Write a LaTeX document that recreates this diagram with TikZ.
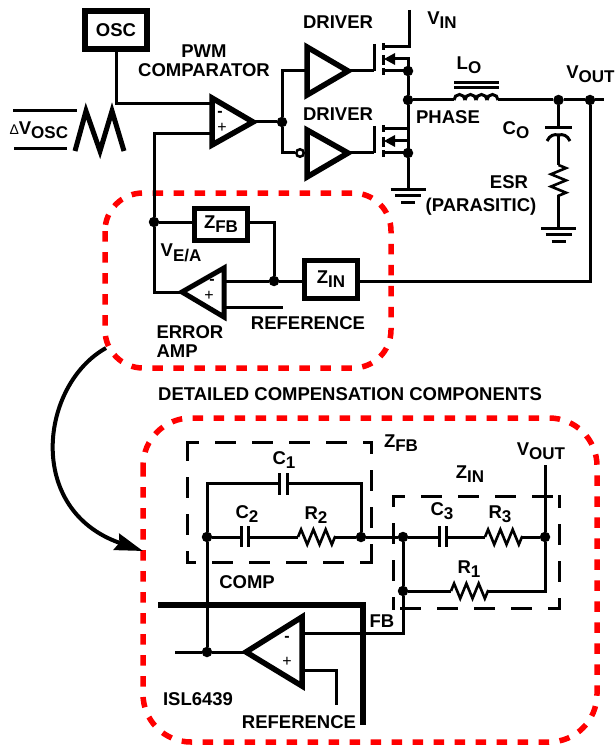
\documentclass[tikz,border=0pt]{standalone}
\usepackage{fontspec}
\setmainfont{Liberation Sans}
\usetikzlibrary{arrows.meta}
\usetikzlibrary{decorations.pathmorphing}

\newcommand{\subt}[2]{#1\raisebox{-4.5pt}{\fontsize{17}{17}\selectfont #2}}

\begin{document}
\begin{tikzpicture}[x=1pt, y=-1pt, line width=3pt, >={Stealth[length=28pt,width=17pt,inset=3pt]}]
\tikzset{dot/.style={circle,fill=black,inner sep=0,outer sep=0,minimum size=10.5pt}}
\tikzset{lab/.style={font=\bfseries\fontsize{18.5}{19}\selectfont,inner sep=0,align=center}}
\tikzset{sign/.style={font=\fontsize{16}{16}\selectfont,inner sep=0}}
\tikzset{block/.style={draw,line width=5.5pt,inner sep=0,outer sep=0,minimum width=#1,minimum height=38pt}}
\tikzset{amp/.style={line width=5.5pt,fill=white,miter limit=10}}
\tikzset{res/.style={decorate,decoration={zigzag,segment length=12.3pt,amplitude=7.5pt},line width=2.6pt}}
\tikzset{redbox/.style={draw=red,line width=5.5pt,dash pattern=on 10.5pt off 10.5pt}}
\tikzset{blackbox/.style={line width=3pt,line cap=rect,dash pattern=on 18pt off 19pt,dash phase=8pt}}
\tikzset{bar/.style={line width=3pt}}
\tikzset{gnd/.pic={
  \draw (-17.5,0) -- (17.5,0);
  \draw (-13,6.5) -- (13,6.5);
  \draw (-7,13) -- (7,13);
}}
\tikzset{fet/.pic={
  \draw (-34,-27) -- (-34,0);
  \foreach \a/\b in {-28/-21,-16/-6,-3/4} {\draw (-25,\a) -- (-25,\b);}
  \draw (-25,-24) -- (1,-24);
  \draw (-25,0) -- (0,0);
  \draw (0,0) -- (0,-12) -- (-14,-12);
  \fill (-24,-12) -- (-13,-18) -- (-13,-6) -- cycle;
}}
\useasboundingbox (0,0) rectangle (615,746);

% red outlines
\draw[redbox,rounded corners=38pt] (105,193) rectangle (391,368);
\draw[redbox,rounded corners=48pt] (143,418) rectangle (597,742);

% oscillator and ramp
\node[block=62pt,lab] (osc) at (116,30) {OSC};
\coordinate (cmpin) at (211,104);
\coordinate (oscturn) at (116,104);
\draw (osc) -- (oscturn) -- (cmpin);
\draw[line width=5pt,line join=miter] (75,151) -- (86,111) -- (100,151) -- (112,111) -- (124,151);
\coordinate (dvtop) at (13,111);
\coordinate (dvtopb) at (77,111);
\coordinate (dvbot) at (14,149);
\coordinate (dvbotb) at (67,149);
\draw (dvtop) -- (dvtopb);
\draw (dvbot) -- (dvbotb);
\node[lab,anchor=west] (dv) at (8,130) {{\fontseries{m}\selectfont\fontsize{14}{14}\selectfont Δ}\subt{V}{OSC}};
\node[lab] (pwm) at (204,61) {PWM\\COMPARATOR};

% pwm comparator
\coordinate (cmpa) at (212,98);
\coordinate (cmpb) at (253,122);
\coordinate (cmpc) at (212,145);
\node[dot] (jcmp) at (282,122) {};
\node[dot] (jea) at (154,222) {};
\coordinate (cmpplus) at (154,134);
\coordinate (cmpplusb) at (211,134);
\draw (cmpb) -- (jcmp);
\draw (jea) -- (cmpplus) -- (cmpplusb);
\draw[amp] (cmpa) -- (cmpb) -- (cmpc) -- cycle;
\node[sign] (cmpm) at (220,114) {\textbf{-}};
\node[sign] (cmpp) at (222,128) {+};

% drivers
\coordinate (drva) at (307,47);
\coordinate (drvb) at (348,71);
\coordinate (drvc) at (307,95);
\coordinate (drvd) at (307,130);
\coordinate (drve) at (348,153);
\coordinate (drvf) at (307,177);
\coordinate (drvain) at (305,71);
\coordinate (bubin) at (282,153);
\node[draw,circle,fill=white,inner sep=0,minimum size=7.5pt,line width=2.5pt] (bub) at (300,153) {};
\draw (jcmp) |- (drvain);
\draw (jcmp) -- (bubin) -- (bub);
\draw[amp] (drva) -- (drvb) -- (drvc) -- cycle;
\draw[amp] (drvd) -- (drve) -- (drvf) -- cycle;
\node[lab] (drvlaba) at (338,22) {DRIVER};
\node[lab] (drvlabb) at (338,114) {DRIVER};

% mosfets and phase node
\node[dot] (jsrc) at (408,71) {};
\node[dot] (jphase) at (408,100) {};
\node[dot] (jlow) at (408,153) {};
\pic at (408,71) {fet};
\pic at (408,153) {fet};
\coordinate (gatea) at (374,71);
\coordinate (gateb) at (374,153);
\coordinate (vintop) at (409.5,10);
\coordinate (vinturn) at (409.5,47);
\coordinate (gndlow) at (408,189);
\draw (drvb) -- (gatea);
\draw (drve) -- (gateb);
\draw (vintop) -- (vinturn) -- (384,47);
\draw (jsrc) -- (jphase) -- (jlow) -- (gndlow);
\pic at (gndlow) {gnd};
\node[lab] (vin) at (442,20) {\subt{V}{IN}};
\node[lab] (phase) at (448,117) {PHASE};

% output filter
\coordinate (la) at (454,100);
\coordinate (lb) at (498,100);
\node[dot] (jco) at (558.5,100) {};
\node[dot] (jout) at (590,100) {};
\coordinate (outend) at (604,100);
\draw (jphase) -- (la);
\foreach \k in {0,1,2,3} {\draw (454+11*\k,100) arc (180:360:5.5);}
\draw (lb) -- (jco) -- (jout) -- (outend);
\coordinate (lbara) at (454,82.5);
\coordinate (lbarb) at (499,82.5);
\coordinate (lbarc) at (454,87.5);
\coordinate (lbard) at (499,87.5);
\draw (lbara) -- (lbarb);
\draw (lbarc) -- (lbard);
\coordinate (capt) at (558.5,128);
\coordinate (capb) at (558.5,135);
\coordinate (esra) at (558.5,165);
\coordinate (esrb) at (558.5,200);
\coordinate (gndco) at (558.5,228);
\draw (jco) -- (capt);
\draw (545,128) -- (572,128);
\draw (547,141) .. controls (550,135) and (554,134) .. (capb) .. controls (563,134) and (567,135) .. (570,141);
\draw (capb) -- (esra);
\draw[res] (esra) -- (esrb);
\draw (esrb) -- (gndco);
\pic at (gndco) {gnd};
\node[lab] (lo) at (469,65) {\subt{L}{O}};
\node[lab] (vout) at (590.5,74) {\subt{V}{OUT}};
\node[lab] (co) at (516,130) {\subt{C}{O}};
\node[lab] (esr) at (509,182) {ESR};
\node[lab] (para) at (481,207) {(PARASITIC)};

% error amp
\node[block=53pt,lab,line width=5pt,minimum height=32pt] (zfb) at (221,224) {\subt{Z}{FB}};
\node[block=53pt,lab,line width=5pt] (zin) at (331,279) {\subt{Z}{IN}};
\node[dot] (jsum) at (274,281) {};
\coordinate (eaa) at (182,292);
\coordinate (eab) at (224,268);
\coordinate (eac) at (224,317);
\coordinate (eain) at (224,281);
\coordinate (eaplus) at (224,307);
\coordinate (eaplusb) at (283,307);
\coordinate (eaturn) at (154,292);
\coordinate (fbturn) at (274,222);
\coordinate (vinret) at (590,281);
\draw (jea) -- (zfb.west |- jea);
\draw (zfb.east |- jea) -- (fbturn) -- (jsum);
\draw (jea) -- (eaturn) -- (eaa);
\draw (eain) -- (jsum) -- (zin.west |- jsum);
\draw (zin.east |- jsum) -- (vinret) -- (jout);
\draw (eaplus) -- (eaplusb);
\draw[amp,line width=5pt] (eaa) -- (eab) -- (eac) -- cycle;
\node[sign] (eam) at (212,282) {\textbf{-}};
\node[sign] (eap) at (209,296) {+};
\node[lab] (vea) at (181,253) {\subt{V}{E/A}};
\node[lab] (ref) at (308,323) {REFERENCE};
\node[lab,align=left,anchor=west] (err) at (155,342) {ERROR\\AMP};

% link to detail
\coordinate (lnka) at (106,348);
\coordinate (lnkb) at (143,551);
\draw[line width=4pt,->] (lnka) .. controls (40,385) and (25,510) .. (lnkb);
\node[lab] (title) at (350,394) {DETAILED COMPENSATION COMPONENTS};

% detail - dashed groups, one side at a time
\foreach \xa/\ya/\xb/\yb in {187/442/371/442,371/442/371/562,371/562/187/562,187/562/187/442,
  393/496/559/496,559/496/559/608,559/608/393/608,393/608/393/496}
  {\draw[blackbox] (\xa,\ya) -- (\xb,\yb);}
\node[lab] (zfblab) at (401,443) {\subt{Z}{FB}};
\node[lab] (zinlab) at (470,474) {\subt{Z}{IN}};
\node[lab] (voutb) at (541,451) {\subt{V}{OUT}};

% detail - components
\node[dot] (ja) at (207,537) {};
\node[dot] (jb) at (361,537) {};
\node[dot] (jc) at (403,537) {};
\node[dot] (jd) at (545,537) {};
\node[dot] (je) at (403,591) {};
\node[dot] (jf) at (207,652) {};
\coordinate (tlt) at (207,483);
\coordinate (trt) at (361,483);
\coordinate (coa) at (279,483);
\coordinate (cob) at (287,483);
\coordinate (cta) at (241,537);
\coordinate (ctb) at (248,537);
\coordinate (rta) at (298,537);
\coordinate (rtb) at (335,537);
\coordinate (cua) at (439,537);
\coordinate (cub) at (446,537);
\coordinate (rua) at (485,537);
\coordinate (rub) at (522,537);
\coordinate (roa) at (451,591);
\coordinate (rob) at (488,591);
\coordinate (vot) at (545,465);
\coordinate (vob) at (545,591);
\draw (ja) -- (tlt) -- (coa);
\draw (cob) -- (trt) -- (jb);
\draw (ja) -- (cta);
\draw (ctb) -- (rta);
\draw[res] (rta) -- (rtb);
\draw (rtb) -- (jb) -- (jc) -- (cua);
\draw (cub) -- (rua);
\draw[res] (rua) -- (rub);
\draw (rub) -- (jd);
\draw (vot) -- (jd) -- (vob) -- (rob);
\draw[res] (roa) -- (rob);
\draw (roa) -- (je);
\foreach \p/\q in {279/473,287/473} {\draw[bar] (\p,\q) -- (\p,495);}
\foreach \p/\q in {241/526,248/526,439/526,446/526} {\draw[bar] (\p,\q) -- (\p,547);}
\node[lab] (c1lab) at (284,460) {\subt{C}{1}};
\node[lab] (c2lab) at (247,514) {\subt{C}{2}};
\node[lab] (r2lab) at (316,515) {\subt{R}{2}};
\node[lab] (c3lab) at (442,511) {\subt{C}{3}};
\node[lab] (r3lab) at (500,514) {\subt{R}{3}};
\node[lab] (r1lab) at (469,569) {\subt{R}{1}};
\node[lab] (comp) at (247,582) {COMP};

% detail - chip and amp
\coordinate (chipa) at (158,605);
\coordinate (chipb) at (363,605);
\coordinate (chipc) at (363,725);
\coordinate (oaa) at (246,652);
\coordinate (oab) at (302,617);
\coordinate (oac) at (302,686);
\coordinate (oain) at (302,633);
\coordinate (fbturnb) at (403,633);
\coordinate (oaplus) at (302,670);
\coordinate (refturn) at (336,670);
\coordinate (refend) at (336,705);
\coordinate (oaout) at (175,652);
\draw (jc) -- (je) -- (fbturnb) -- (oain);
\draw[line width=6pt] (chipa) -- (chipb) -- (chipc);
\draw (ja) -- (jf);
\draw (oaout) -- (jf) -- (oaa);
\draw (oaplus) -- (refturn) -- (refend);
\draw[amp] (oaa) -- (oab) -- (oac) -- cycle;
\node[sign] (oam) at (287,639) {\textbf{-}};
\node[sign] (oap) at (287,662) {+};
\node[lab] (fb) at (382,621) {FB};
\node[lab] (isl) at (198,699) {ISL6439};
\node[lab] (refb) at (299,722) {REFERENCE};

\end{tikzpicture}
\end{document}
